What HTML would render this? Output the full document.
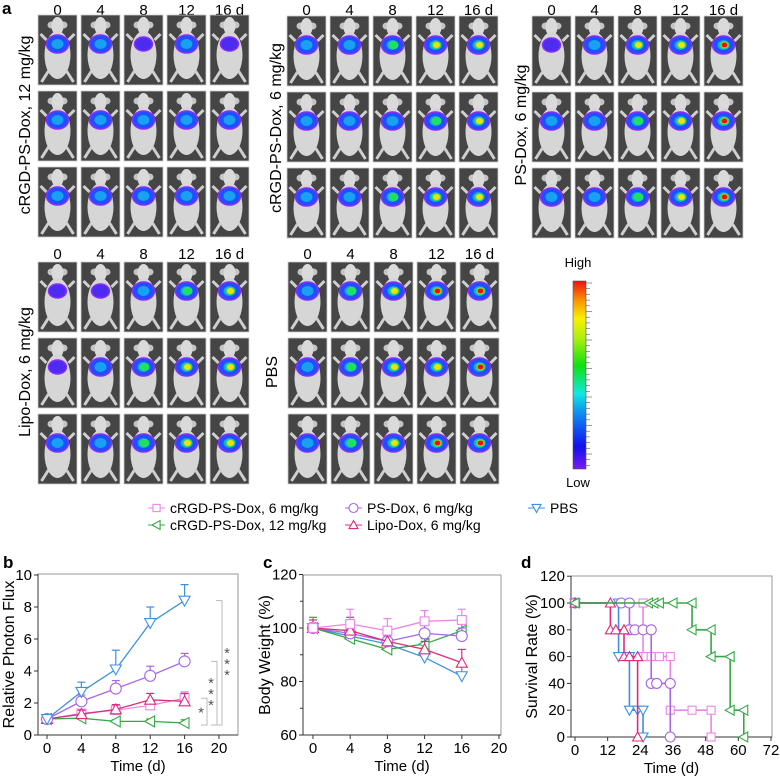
<!DOCTYPE html>
<html><head><meta charset="utf-8">
<style>
html,body{margin:0;padding:0;background:#fff;}
svg text{font-family:"Liberation Sans",Arial,sans-serif;}
</style></head>
<body>
<svg id="fig" width="780" height="776" viewBox="0 0 780 776" xmlns="http://www.w3.org/2000/svg">
<defs>
<linearGradient id="cbar" x1="0" y1="1" x2="0" y2="0">
<stop offset="0" stop-color="#7a1cf0"/><stop offset="0.12" stop-color="#1010f0"/><stop offset="0.3" stop-color="#1090f0"/><stop offset="0.4" stop-color="#10e8e0"/><stop offset="0.55" stop-color="#10e010"/><stop offset="0.7" stop-color="#b0f010"/><stop offset="0.8" stop-color="#f8f000"/><stop offset="0.9" stop-color="#f89000"/><stop offset="1" stop-color="#f01010"/>
</linearGradient>
</defs>
<g id="panelA"></g>
<g id="chartB"></g>
<g id="chartC"></g>
<g id="chartD"></g>
</svg>
<script>
const NS="http://www.w3.org/2000/svg";
function mk(parent,tag,attrs,text){const e=document.createElementNS(NS,tag);for(const k in attrs)e.setAttribute(k,attrs[k]);if(text!==undefined)e.textContent=text;parent.appendChild(e);return e;}

// ---------- Panel a: imaging ----------
const dayLabels=["0","4","8","12","16 d"];
const groupNames=["cRGD-PS-Dox, 12 mg/kg","cRGD-PS-Dox, 6 mg/kg","PS-Dox, 6 mg/kg","Lipo-Dox, 6 mg/kg","PBS"];
const groupIntensity=[
 [[1,1,0,1,0],[1,1,1,1,1],[1,1,1,1,1]],
 [[1,1,2,3,3],[1,1,1,2,3],[1,1,2,3,3]],
 [[0,1,3,3,4],[1,1,2,3,4],[1,1,2,3,4]],
 [[0,0,1,2,3],[0,1,2,3,3],[1,1,2,3,3]],
 [[1,2,3,4,4],[1,2,3,3,4],[1,2,3,4,4]]
];
const groupLayout=[
 {x:38,y:15,lx:25,ly:125,lab:9},
 {x:287,y:16,lx:276,ly:128,lab:9},
 {x:532,y:16,lx:521,ly:125,lab:9},
 {x:38,y:262,lx:25,ly:372,lab:253},
 {x:288,y:262,lx:272,ly:372,lab:253}
];
const A=document.getElementById('panelA');
const la=mk(A,'text',{x:2,y:14,'font-size':17,'font-weight':'bold'},'a');


groupLayout.forEach((g,gi)=>{
  const gg=mk(A,'g',{});
  
  
  for(let d=0;d<5;d++){
    const t=mk(gg,'text',{x:g.x+19.5+d*43,y:g.lab+6,'font-size':15,'text-anchor':'middle'},dayLabels[d]);
    
    
  }
  const gl=mk(gg,'text',{x:g.lx,y:g.ly,'font-size':16,'text-anchor':'middle',transform:`rotate(-90 ${g.lx} ${g.ly})`,dy:5},groupNames[gi]);
  
  
  for(let r=0;r<3;r++)for(let d=0;d<5;d++){
    const px=g.x+d*43, py=g.y+r*76, w=39, h=70, lv=groupIntensity[gi][r][d];
    const p=mk(gg,'g',{transform:`translate(${px},${py})`});
    
    
    mk(p,'rect',{x:0,y:0,width:w,height:h,fill:'#454545',stroke:'#ccc','stroke-width':0.8});
    const cx=w/2;
    mk(p,'ellipse',{cx:cx-6,cy:10,rx:4,ry:3.5,fill:'#c4c4c4'});
    mk(p,'ellipse',{cx:cx+6,cy:10,rx:4,ry:3.5,fill:'#c4c4c4'});
    mk(p,'ellipse',{cx:cx,cy:11,rx:6,ry:9,fill:'#dadada'});
    mk(p,'ellipse',{cx:cx,cy:40,rx:13,ry:24,fill:'#d6d6d6'});
    mk(p,'path',{d:`M${cx-9},56 L${cx-16},67 M${cx+9},56 L${cx+16},67 M${cx-11},25 L${cx-17},19 M${cx+11},25 L${cx+17},19`,stroke:'#cfcfcf','stroke-width':3});
    mk(p,'ellipse',{cx:cx,cy:29,rx:lv>=1?11:9,ry:lv>=1?9:7,fill:lv>=1?'#1f50ff':'#4b2cf0',stroke:'#8a2cff','stroke-width':1.5});
    if(lv>=1)mk(p,'ellipse',{cx:cx,cy:29,rx:6,ry:5,fill:'#1aa0f0'});
    if(lv>=2)mk(p,'ellipse',{cx:cx+1,cy:29,rx:5,ry:4,fill:'#20e060'});
    if(lv>=3)mk(p,'ellipse',{cx:cx+1,cy:29,rx:3.5,ry:3,fill:'#f0e010'});
    if(lv>=4)mk(p,'ellipse',{cx:cx+1,cy:29,rx:3,ry:2.5,fill:'#f01010'});
  }
});
// colorbar
const cb=mk(A,'g',{});


mk(cb,'rect',{x:573,y:281,width:13,height:188,fill:'url(#cbar)',stroke:'#555','stroke-width':0.6});
for(let i=0;i<=32;i++){const y=283+i*5.7;mk(cb,'line',{x1:586,x2:i%5===0?592:590,y1:y,y2:y,stroke:'#555','stroke-width':0.6});}
const hi=mk(cb,'text',{x:578,y:267,'font-size':13,'text-anchor':'middle'},'High');

const lo=mk(cb,'text',{x:578,y:487,'font-size':13,'text-anchor':'middle'},'Low');


// ---------- Series definitions ----------
const seriesNames=["cRGD-PS-Dox, 6 mg/kg","cRGD-PS-Dox, 12 mg/kg","PS-Dox, 6 mg/kg","Lipo-Dox, 6 mg/kg","PBS"];
const seriesColors=["#ec86e4","#35a845","#a866e6","#dc2d7c","#3d90de"];
const seriesMarkers=["square","ltri","circle","utri","dtri"];

function marker(parent,type,x,y,color,s){
  s=s||5;let e;
  if(type==='square')e=mk(parent,'rect',{x:x-s*0.8,y:y-s*0.8,width:s*1.6,height:s*1.6});
  else if(type==='circle')e=mk(parent,'circle',{cx:x,cy:y,r:s});
  else if(type==='utri')e=mk(parent,'polygon',{points:`${x},${y-s} ${x-s},${y+s*0.8} ${x+s},${y+s*0.8}`});
  else if(type==='dtri')e=mk(parent,'polygon',{points:`${x},${y+s} ${x-s},${y-s*0.8} ${x+s},${y-s*0.8}`});
  else e=mk(parent,'polygon',{points:`${x-s},${y} ${x+s*0.8},${y-s} ${x+s*0.8},${y+s}`});
  e.setAttribute('fill','#fff');e.setAttribute('stroke',color);e.setAttribute('stroke-width',1.1);
  
  
  return e;
}

// legend
const legendPos=[[148,508],[148,525],[345,508],[345,525],[528,508]];
const L=mk(document.getElementById('fig'),'g',{});


seriesNames.forEach((n,i)=>{
  const g=mk(L,'g',{});
  
  
  const [x,y]=legendPos[i];
  mk(g,'line',{x1:x,x2:x+17,y1:y,y2:y,stroke:seriesColors[i],'stroke-width':1});
  marker(g,seriesMarkers[i],x+8.5,y,seriesColors[i],4.5);
  mk(g,'text',{x:x+22,y:y+5,'font-size':14},n);
});

// ---------- generic axes ----------
function axes(G,o){
  const xs=v=>o.x0+(v-o.xmin)*o.xk, ys=v=>o.y0-(v-o.ymin)*o.yk;
  mk(G,'rect',{x:o.left,y:o.top,width:o.right-o.left,height:o.y0-o.top,fill:'none',stroke:'#999','stroke-width':1});
  mk(G,'line',{x1:o.left,x2:o.right,y1:o.y0,y2:o.y0,stroke:'#333','stroke-width':1});
  mk(G,'line',{x1:o.left,x2:o.left,y1:o.top,y2:o.y0,stroke:'#333','stroke-width':1});
  o.xt.forEach(v=>{const x=xs(v);mk(G,'line',{x1:x,x2:x,y1:o.y0,y2:o.y0+4,stroke:'#333'});
    const t=mk(G,'text',{x:x,y:o.y0+18,'font-size':15,'text-anchor':'middle'},String(v));
    });
  o.yt.forEach(v=>{const y=ys(v);mk(G,'line',{x1:o.left-4,x2:o.left,y1:y,y2:y,stroke:'#333'});
    const t=mk(G,'text',{x:o.left-6,y:y+5,'font-size':o.yfs||15,'text-anchor':'end'},String(v));
    });
  const xt=mk(G,'text',{x:(o.left+o.right)/2,y:o.y0+36,'font-size':15,'text-anchor':'middle'},'Time (d)');
  
  const cy=(o.top+o.y0)/2;
  const yt=mk(G,'text',{x:o.ytx,y:cy,'font-size':16,'text-anchor':'middle',transform:`rotate(-90 ${o.ytx} ${cy})`},o.ytitle);
  
  const pl=mk(G,'text',{x:o.plx,y:o.ply,'font-size':17,'font-weight':'bold'},o.plab);
  
  return [xs,ys];
}

// ---------- chart b ----------
const fluxDays=[0,4,8,12,16];
const flux_cRGD6=[1,1.35,1.55,1.85,2.3];
const flux_cRGD12=[1,1.05,0.85,0.85,0.75];
const flux_PS=[1,2.1,2.9,3.7,4.6];
const flux_Lipo=[1,1.3,1.6,2.2,2.1];
const flux_PBS=[1,2.7,4.1,7.0,8.4];
const fluxErr_cRGD6=[0.1,0.2,0.3,0.2,0.4];
const fluxErr_cRGD12=[0.1,0.1,0.1,0.15,0.2];
const fluxErr_PS=[0.1,0.4,0.5,0.6,0.5];
const fluxErr_Lipo=[0.1,0.25,0.3,0.4,0.5];
const fluxErr_PBS=[0.1,0.6,1.2,1.0,1.0];
const fluxXTicks=[0,4,8,12,16,20];
const fluxYTicks=[0,2,4,6,8,10];

function lineSeries(G,xs,ys,days,vals,errs,i){
  const g=mk(G,'g',{});
  
  
  days.forEach((d,k)=>{const x=xs(d),y=ys(vals[k]),ye=ys(vals[k]+errs[k]);
    mk(g,'line',{x1:x,x2:x,y1:y,y2:ye,stroke:seriesColors[i],'stroke-width':1.2});
    mk(g,'line',{x1:x-4,x2:x+4,y1:ye,y2:ye,stroke:seriesColors[i],'stroke-width':1.2});});
  const pl=mk(g,'polyline',{points:days.map((d,k)=>xs(d)+','+ys(vals[k])).join(' '),fill:'none',stroke:seriesColors[i],'stroke-width':1.3});
  
  
  days.forEach((d,k)=>marker(g,seriesMarkers[i],xs(d),ys(vals[k]),seriesColors[i],5.5));
}
(function(){
  const G=document.getElementById('chartB');
  const [xs,ys]=axes(G,{x0:47,xmin:0,xk:8.6,y0:735,ymin:0,yk:16,left:38,right:238,top:574,xt:fluxXTicks,yt:fluxYTicks,ytitle:'Relative Photon Flux',ytx:14,plab:'b',plx:3,ply:568});
  const all=[flux_cRGD6,flux_cRGD12,flux_PS,flux_Lipo,flux_PBS],errs=[fluxErr_cRGD6,fluxErr_cRGD12,fluxErr_PS,fluxErr_Lipo,fluxErr_PBS];
  [1,0,3,2,4].forEach(i=>lineSeries(G,xs,ys,fluxDays,all[i],errs[i],i));
  const br=[[flux_cRGD12[4],flux_cRGD6[4],207,'*',201],[flux_cRGD12[4],flux_PS[4],217,'* * *',211],[flux_cRGD12[4],flux_PBS[4],222,'* * *',227]];
  br.forEach(b=>{const g=mk(G,'g',{});
    const y1=ys(b[0])+2,y2=ys(b[1]);
    mk(g,'polyline',{points:`${b[2]-6},${y1} ${b[2]},${y1} ${b[2]},${y2} ${b[2]-6},${y2}`,fill:'none',stroke:'#bbb','stroke-width':1});
    const cy=(y1+y2)/2;
    const lines=b[3].split(' ');
    lines.forEach((s,k)=>mk(g,'text',{x:b[4],y:cy+6+(k-(lines.length-1)/2)*11,'font-size':15,fill:'#555','text-anchor':'middle'},s));
  });
})();

// ---------- chart c ----------
const bwDays=[0,4,8,12,16];
const bw_cRGD6=[100,101.5,99,102.5,103];
const bw_cRGD12=[100,96,92,94,99];
const bw_PS=[100,98,95,98,97];
const bw_Lipo=[100,99,95,92,87];
const bw_PBS=[100,97,94,89,82];
const bwErr_cRGD6=[2,5.5,4.5,4,4];
const bwErr_cRGD12=[4,3,3,2,5];
const bwErr_PS=[2,2,2.5,3,3];
const bwErr_Lipo=[3,5,3,3,5];
const bwErr_PBS=[1,3,3,3.5,4];
const bwXTicks=[0,4,8,12,16,20];
const bwYTicks=[60,80,100,120];
(function(){
  const G=document.getElementById('chartC');
  const [xs,ys]=axes(G,{x0:313,xmin:0,xk:9.3,y0:735,ymin:60,yk:2.675,left:303,right:501,top:575,xt:bwXTicks,yt:bwYTicks,ytitle:'Body Weight (%)',ytx:270,plab:'c',plx:263,ply:568});
  [70,90,110].forEach(v=>mk(G,'line',{x1:300,x2:303,y1:ys(v),y2:ys(v),stroke:'#333'}));
  const all=[bw_cRGD6,bw_cRGD12,bw_PS,bw_Lipo,bw_PBS],errs=[bwErr_cRGD6,bwErr_cRGD12,bwErr_PS,bwErr_Lipo,bwErr_PBS];
  [4,1,2,3,0].forEach(i=>lineSeries(G,xs,ys,bwDays,all[i],errs[i],i));
})();

// ---------- chart d ----------
const surv_cRGD6_t=[0,25,25,26,28,31,35,35,43,50,50];
const surv_cRGD6_v=[100,100,60,60,60,60,60,20,20,20,0];
const surv_cRGD12_t=[0,27,29,31,36,43,43,50,50,57,57,62,62];
const surv_cRGD12_v=[100,100,100,100,100,100,80,80,60,60,20,20,0];
const surv_PS_t=[0,17,20,20,22,25,28,28,30,35,35];
const surv_PS_v=[100,100,100,80,80,80,80,40,40,40,0];
const surv_Lipo_t=[0,13,13,15,18,18,20,23,23];
const surv_Lipo_v=[100,100,80,80,80,60,60,60,0];
const surv_PBS_t=[0,16,16,20,20,23,25,25];
const surv_PBS_v=[100,100,60,60,20,20,20,0];
const survXTicks=[0,12,24,36,48,60,72];
const survYTicks=[0,20,40,60,80,100,120];
(function(){
  const G=document.getElementById('chartD');
  const [xs,ys]=axes(G,{x0:575,xmin:0,xk:2.722,y0:737,ymin:0,yk:1.34,left:571,right:772,top:576,xt:survXTicks,yt:survYTicks,ytitle:'Survival Rate (%)',ytx:537,plab:'d',plx:521,ply:568});
  const T=[surv_cRGD6_t,surv_cRGD12_t,surv_PS_t,surv_Lipo_t,surv_PBS_t],V=[surv_cRGD6_v,surv_cRGD12_v,surv_PS_v,surv_Lipo_v,surv_PBS_v];
  [4,0,2,3,1].forEach(i=>{
    const g=mk(G,'g',{});
    
    
    const t=T[i],v=V[i];let pts=[];
    for(let k=0;k<t.length;k++){if(k>0)pts.push(xs(t[k])+','+ys(v[k-1]));pts.push(xs(t[k])+','+ys(v[k]));}
    const pl=mk(g,'polyline',{points:pts.join(' '),fill:'none',stroke:seriesColors[i],'stroke-width':1.6});
    
    
    for(let k=0;k<t.length;k++)marker(g,seriesMarkers[i],xs(t[k]),ys(v[k]),seriesColors[i],5);
  });
})();
</script>
</body></html>
